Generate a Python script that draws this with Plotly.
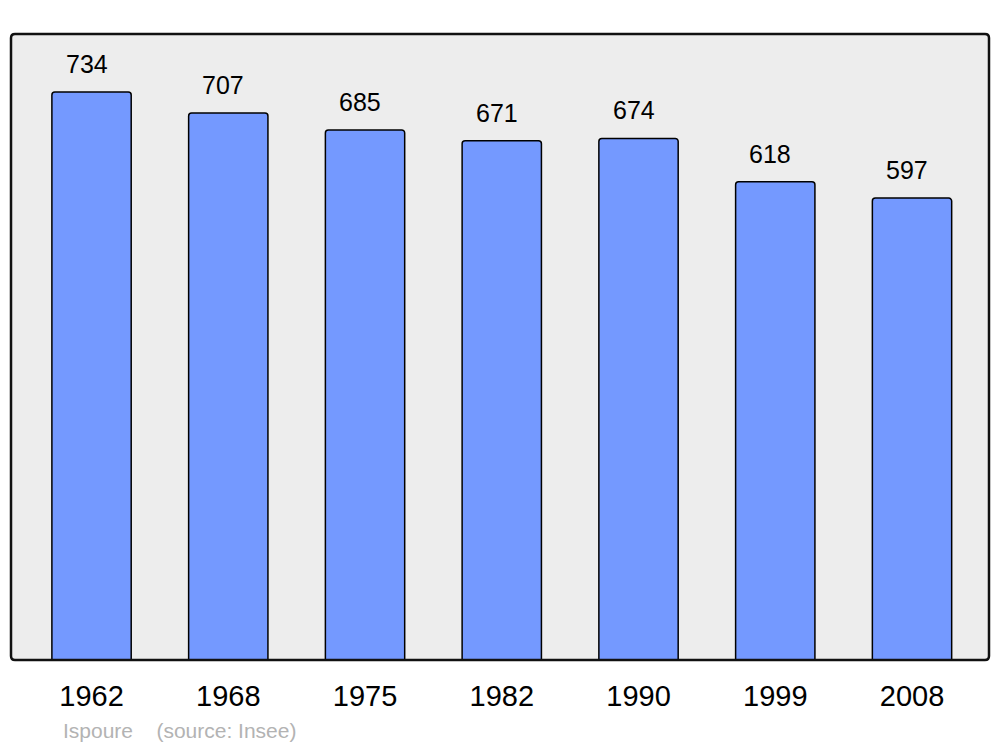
import plotly.graph_objects as go

years = ["1962", "1968", "1975", "1982", "1990", "1999", "2008"]
population = [734, 707, 685, 671, 674, 618, 597]
place = "Ispoure"
source = "(source: Insee)"

W, H = 1000, 747
L, R, T, B = 11, 11, 34, 87
pw, ph = W - L - R, H - T - B

xs = list(range(len(years)))
fig = go.Figure()
fig.add_trace(go.Bar(
    x=xs, y=population, width=0.58,
    marker=dict(color="#7499ff", line=dict(color="black", width=1.5)),
    hoverinfo="skip",
))

for x, v in zip(xs, population):
    fig.add_annotation(x=x, y=v, text=str(v), showarrow=False, xref="x", yref="y",
                       yanchor="middle", yshift=28, xshift=-5,
                       font=dict(family="Liberation Sans, Arial", size=25, color="black"))

fig.add_annotation(x=(61 - L) / pw, y=(H - B - 730) / ph, xref="paper", yref="paper",
                   text=place + "    " + source,
                   showarrow=False, xanchor="left", yanchor="middle",
                   font=dict(family="Liberation Sans, Arial", size=21, color="#b3b3b3"))

r = 4
rx, ry = r / pw, r / ph
path = (f"M {rx},0 L {1-rx},0 Q 1,0 1,{ry} L 1,{1-ry} Q 1,1 {1-rx},1 "
        f"L {rx},1 Q 0,1 0,{1-ry} L 0,{ry} Q 0,0 {rx},0 Z")
fig.add_shape(type="path", path=path, xref="paper", yref="paper",
              line=dict(color="#111111", width=2.5), layer="above")

fig.update_layout(
    width=W, height=H,
    margin=dict(l=L, r=R, t=T, b=B, pad=0),
    paper_bgcolor="white", plot_bgcolor="#ededed",
    barcornerradius=3,
    showlegend=False,
    xaxis=dict(range=[-0.589, 6.563], tickvals=xs, ticktext=years, showgrid=False,
               zeroline=False, showline=False, ticks="", ticklabelstandoff=16,
               tickfont=dict(family="Liberation Sans, Arial", size=29, color="black"),
               fixedrange=True),
    yaxis=dict(range=[0, 809], showgrid=False, zeroline=False, showticklabels=False,
               showline=False, ticks="", fixedrange=True),
)

fig.write_html("out.html", config={"displayModeBar": False},
               post_script="document.body.style.margin='0px';document.body.style.overflow='hidden';")
